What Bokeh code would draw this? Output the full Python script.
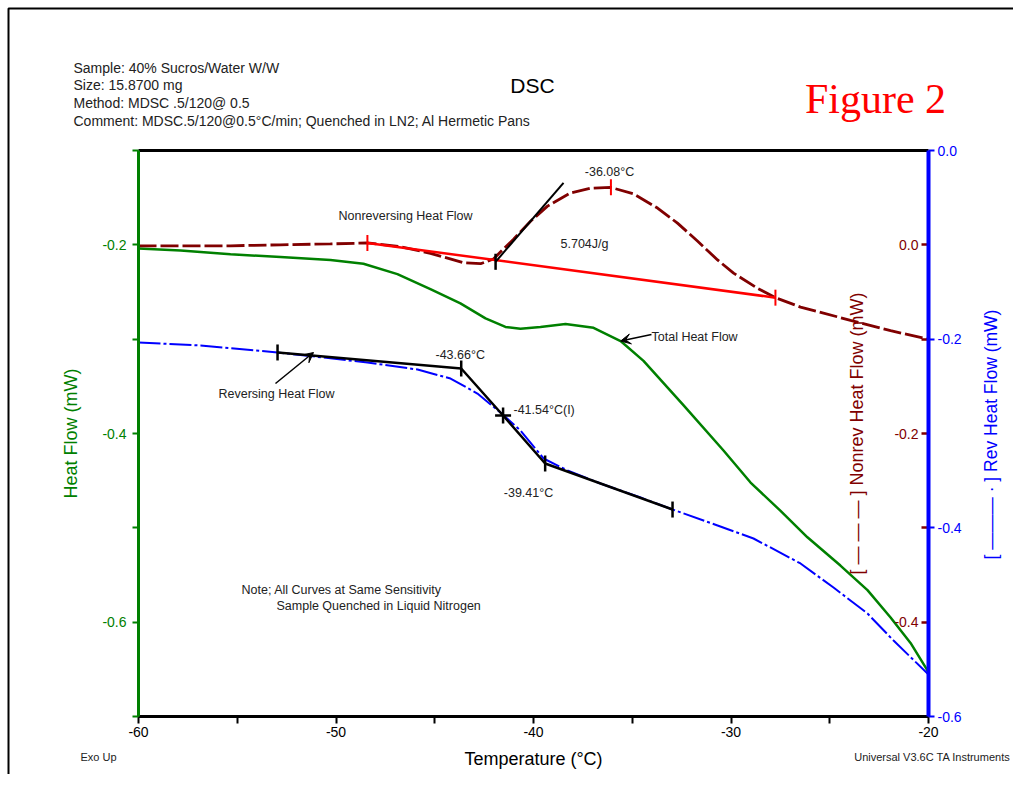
import numpy as np
from bokeh.plotting import figure
from bokeh.models import (Range1d, LinearAxis, FixedTicker, Label, Arrow, VeeHead,
                          PrintfTickFormatter)
from bokeh.embed import file_html
from bokeh.resources import INLINE

# ---------------- data ----------------
# Total heat flow (left axis, mW)
temp_total = [-60.0, -57.87, -55.34, -52.81, -50.28, -48.61, -46.89, -45.22, -43.70, -42.43,
              -41.42, -40.66, -39.65, -38.38, -36.96, -35.59, -34.43, -32.41, -30.38, -29.01,
              -27.49, -26.13, -24.46, -23.09, -21.92, -20.91, -20.0]
heat_total = [-0.204, -0.206, -0.210, -0.213, -0.216, -0.220, -0.231, -0.247, -0.262, -0.278,
              -0.287, -0.289, -0.287, -0.284, -0.288, -0.302, -0.323, -0.370, -0.418, -0.452,
              -0.482, -0.510, -0.540, -0.566, -0.595, -0.622, -0.653]

# Reversing heat flow (right blue axis, mW)
temp_rev = [-60.0, -56.86, -52.96, -48.41, -45.87, -44.20, -42.84, -41.67, -40.66, -39.49,
            -38.28, -36.61, -34.58, -32.96, -30.68, -28.86, -26.48, -24.81, -23.09, -21.77, -20.0]
heat_rev = [-0.2035, -0.2067, -0.2141, -0.2247, -0.2322, -0.2417, -0.2576, -0.2778, -0.2968,
            -0.3265, -0.3392, -0.3530, -0.3679, -0.3806, -0.3975, -0.4113, -0.4378, -0.4633,
            -0.4908, -0.5195, -0.5555]

# Non-reversing heat flow (inner dark-red axis, mW)
temp_nonrev = [-60.0, -55.34, -52.81, -50.28, -48.41, -46.73, -45.22, -43.54, -42.68, -42.03,
               -41.01, -40.15, -39.29, -38.13, -37.11, -36.10, -34.94, -33.72, -32.71, -31.70,
               -30.68, -29.87, -28.66, -27.75, -26.48, -23.95, -21.92, -20.0]
heat_nonrev = [-0.001, -0.001, 0.000, 0.001, 0.002, -0.002, -0.009, -0.019, -0.020, -0.015,
               0.006, 0.025, 0.041, 0.055, 0.060, 0.061, 0.054, 0.039, 0.023, 0.004,
               -0.016, -0.030, -0.046, -0.056, -0.066, -0.080, -0.091, -0.100]

# Peak integration on the non-reversing curve
base_temp = [-48.41, -27.75]
base_heat = [0.002, -0.056]
peak_temp = [-36.08]
peak_heat = [0.061]
onset_temp = [-41.92, -38.48]
onset_heat = [-0.018, 0.0656]

# Glass transition construction on the reversing curve
tg_temp = [-52.96, -43.66, -41.54, -39.41, -32.96]
tg_heat = [-0.2141, -0.2311, -0.2809, -0.3318, -0.3806]

# axes
x_bounds = [-60, -20]
left_bounds = [-0.7, -0.1]
rev_bounds = [-0.6, 0.0]
nonrev_bounds = [-0.5, 0.1]
x_ticks = [-60, -50, -40, -30, -20]
x_minor = [-55, -45, -35, -25]
left_ticks = [-0.6, -0.4, -0.2]
left_minor = [-0.7, -0.5, -0.3, -0.1]
rev_ticks = [-0.6, -0.4, -0.2, 0.0]
nonrev_ticks = [0.0, -0.2, -0.4]
nonrev_minor = [-0.1, -0.3]

FONT = "Liberation Sans"
GREEN = "#008000"
BLUE = "#0000ff"
MAROON = "#800000"

# --------------- layout: the frame covers the whole canvas ---------------
W, H = 1013, 774                 # canvas size
PLOT_L, PLOT_R = 138, 928        # pixels of the plot box
PLOT_T, PLOT_B = 150, 716
sx = (PLOT_R - PLOT_L) / (x_bounds[1] - x_bounds[0])
sy = (PLOT_B - PLOT_T) / (left_bounds[1] - left_bounds[0])
x_lo = x_bounds[0] - PLOT_L / sx
x_hi = x_bounds[1] + (W - PLOT_R) / sx
y_lo = left_bounds[0] - (H - PLOT_B) / sy
y_hi = left_bounds[1] + PLOT_T / sy
rev_shift = rev_bounds[1] - left_bounds[1]
nonrev_shift = nonrev_bounds[1] - left_bounds[1]


def X(px):
    return x_bounds[0] + (px - PLOT_L) / sx


def YL(py):
    return left_bounds[1] - (py - PLOT_T) / sy


p = figure(width=W, height=H, x_range=Range1d(x_lo, x_hi), y_range=Range1d(y_lo, y_hi),
           x_axis_location=None, y_axis_location=None, output_backend="svg",
           toolbar_location=None, min_border=0)
p.title.visible = False
p.extra_y_ranges = {"rev": Range1d(y_lo + rev_shift, y_hi + rev_shift),
                    "nonrev": Range1d(y_lo + nonrev_shift, y_hi + nonrev_shift)}
p.outline_line_color = None
p.xgrid.grid_line_color = None
p.ygrid.grid_line_color = None
p.background_fill_color = "white"
p.border_fill_color = "white"

# page border (left and top edges)
p.line([X(8), X(8), x_hi], [y_lo, YL(8), YL(8)], line_color="black", line_width=2)

# bottom axis
xa = LinearAxis(fixed_location=left_bounds[0], bounds=tuple(x_bounds),
                ticker=FixedTicker(ticks=x_ticks, minor_ticks=x_minor),
                formatter=PrintfTickFormatter(format="%d"))
xa.axis_line_width = 3
xa.axis_line_color = "black"
xa.major_tick_out = 7
xa.major_tick_in = 0
xa.minor_tick_out = 7
xa.minor_tick_in = 0
xa.major_tick_line_width = 2
xa.minor_tick_line_width = 2
xa.major_label_text_font = FONT
xa.major_label_text_font_size = "14px"
xa.major_label_text_color = "black"
xa.major_label_standoff = 3
xa.axis_label = "Temperature (°C)"
xa.axis_label_text_font = FONT
xa.axis_label_text_font_size = "18px"
xa.axis_label_text_font_style = "normal"
xa.axis_label_text_color = "black"
xa.axis_label_standoff = 9
p.add_layout(xa, "below")

# top frame line
top = LinearAxis(fixed_location=left_bounds[1], bounds=tuple(x_bounds),
                 ticker=FixedTicker(ticks=[]), axis_line_width=3, axis_line_color="black",
                 major_tick_line_color=None, minor_tick_line_color=None,
                 major_label_text_font_size="0px")
p.add_layout(top, "above")

# left axis (total heat flow)
ya = LinearAxis(fixed_location=x_bounds[0], bounds=tuple(left_bounds),
                ticker=FixedTicker(ticks=left_ticks, minor_ticks=left_minor),
                formatter=PrintfTickFormatter(format="%.1f"))
ya.axis_line_width = 3
ya.axis_line_color = GREEN
ya.major_tick_out = 6
ya.major_tick_in = 0
ya.minor_tick_out = 6
ya.minor_tick_in = 0
ya.major_tick_line_color = GREEN
ya.minor_tick_line_color = GREEN
ya.major_tick_line_width = 2
ya.minor_tick_line_width = 2
ya.major_label_text_font = FONT
ya.major_label_text_font_size = "14px"
ya.major_label_text_color = GREEN
ya.major_label_standoff = 6
ya.axis_label = "Heat Flow (mW)"
ya.axis_label_text_font = FONT
ya.axis_label_text_font_size = "18px"
ya.axis_label_text_font_style = "normal"
ya.axis_label_text_color = GREEN
ya.axis_label_standoff = 18
p.add_layout(ya, "left")

# inner non-reversing axis (ticks and labels inside the box, left of the right edge)
na = LinearAxis(y_range_name="nonrev", fixed_location=x_bounds[1], bounds=tuple(nonrev_bounds),
                ticker=FixedTicker(ticks=nonrev_ticks, minor_ticks=nonrev_minor),
                formatter=PrintfTickFormatter(format="%.1f"))
na.axis_line_color = None
na.major_tick_out = 7
na.major_tick_in = 0
na.minor_tick_out = 7
na.minor_tick_in = 0
na.major_tick_line_color = MAROON
na.minor_tick_line_color = MAROON
na.major_tick_line_width = 2.5
na.minor_tick_line_width = 2.5
na.major_label_text_font = FONT
na.major_label_text_font_size = "14px"
na.major_label_text_color = MAROON
na.major_label_standoff = 3
na.axis_label = "[ — — — ] Nonrev Heat Flow (mW)"
na.axis_label_text_font = FONT
na.axis_label_text_font_size = "18px"
na.axis_label_text_font_style = "normal"
na.axis_label_text_color = MAROON
na.axis_label_standoff = 24
p.add_layout(na, "left")

# right axis (reversing heat flow)
ra = LinearAxis(y_range_name="rev", fixed_location=x_bounds[1], bounds=tuple(rev_bounds),
                ticker=FixedTicker(ticks=rev_ticks, minor_ticks=[]),
                formatter=PrintfTickFormatter(format="%.1f"))
ra.axis_line_width = 4
ra.axis_line_color = BLUE
ra.major_tick_out = 6
ra.major_tick_in = 0
ra.major_tick_line_color = BLUE
ra.major_tick_line_width = 2
ra.minor_tick_line_color = None
ra.major_label_text_font = FONT
ra.major_label_text_font_size = "14px"
ra.major_label_text_color = BLUE
ra.major_label_standoff = 3
p.add_layout(ra, "right")

# --------------- curves ---------------
p.line(temp_total, heat_total, line_color=GREEN, line_width=2.5)
p.line(temp_rev, heat_rev, y_range_name="rev", line_color=BLUE, line_width=2,
       line_dash="22 3 3 3")
p.line(temp_nonrev, heat_nonrev, y_range_name="nonrev", line_color=MAROON, line_width=2.8,
       line_dash="18 4")

# integration baseline and marks
p.line(base_temp, base_heat, y_range_name="nonrev", line_color="red", line_width=2.5)
p.scatter(base_temp + peak_temp, base_heat + peak_heat, y_range_name="nonrev",
          marker="dash", angle=np.pi / 2, size=16, line_color="red", line_width=2)
p.line(onset_temp, onset_heat, y_range_name="nonrev", line_color="black", line_width=2)
p.scatter(onset_temp[:1], onset_heat[:1], y_range_name="nonrev", marker="dash",
          angle=np.pi / 2, size=16, line_color="black", line_width=2.5)

# glass transition construction
p.line(tg_temp, tg_heat, y_range_name="rev", line_color="black", line_width=2.5)
p.scatter([tg_temp[i] for i in (0, 1, 3, 4)], [tg_heat[i] for i in (0, 1, 3, 4)],
          y_range_name="rev", marker="dash", angle=np.pi / 2, size=16,
          line_color="black", line_width=2.5)
p.scatter(tg_temp[2:3], tg_heat[2:3], y_range_name="rev", marker="cross", size=16,
          line_color="black", line_width=2.5)


# --------------- texts ---------------
def note(text, px, py, size="12px", color="#222222", align="left", font=FONT, angle=0.0):
    p.add_layout(Label(x=X(px), y=YL(py), text=text, text_font=font, text_font_size=size,
                       text_color=color, text_align=align, text_baseline="middle",
                       angle=angle))


header = ["Sample: 40% Sucros/Water W/W",
          "Size:   15.8700 mg",
          "Method: MDSC .5/120@ 0.5",
          "Comment: MDSC.5/120@0.5°C/min; Quenched in LN2; Al Hermetic Pans"]
for i, line in enumerate(header):
    note(line, 73, 67 + 17.8 * i, size="14px")

note("DSC", 532, 85, size="21px", color="black", align="center")
note("Figure 2", 875, 98, size="42px", color="#ff0000", align="center",
     font="Liberation Serif")

note("Exo Up", 80, 756, size="11px")
note("Universal V3.6C TA Instruments", 1010, 756, size="11px", align="right")

note("Nonreversing Heat Flow", 338, 215, size="12.5px")
note("5.704J/g", 560, 243, size="12.5px")
note("-36.08°C", 609, 171, size="12.5px", align="center")
note("Total Heat Flow", 651, 336, size="12.5px")
note("Reversing Heat Flow", 218, 393, size="12.5px")
note("-43.66°C", 435, 354, size="12.5px")
note("-41.54°C(I)", 513, 409, size="12.5px")
note("-39.41°C", 528, 492, size="12.5px", align="center")
note("Note; All Curves at Same Sensitivity", 241, 589, size="12.5px")
note("Sample Quenched in Liquid Nitrogen", 276, 605, size="12.5px")

note("[ ——— · ] Rev Heat Flow (mW)", 990, 434, size="17.5px", color=BLUE,
     align="center", angle=np.pi / 2)

# arrows
head = dict(size=10, fill_color="black", line_color="black")
p.add_layout(Arrow(end=VeeHead(**head), x_start=X(651), y_start=YL(334),
                   x_end=temp_total[15], y_end=heat_total[15],
                   line_color="black", line_width=1.5))
p.add_layout(Arrow(end=VeeHead(**head), x_start=X(275), y_start=YL(383),
                   x_end=X(313), y_end=YL(352), line_color="black", line_width=1.5))

open("out.html", "w").write(file_html(p, INLINE))
